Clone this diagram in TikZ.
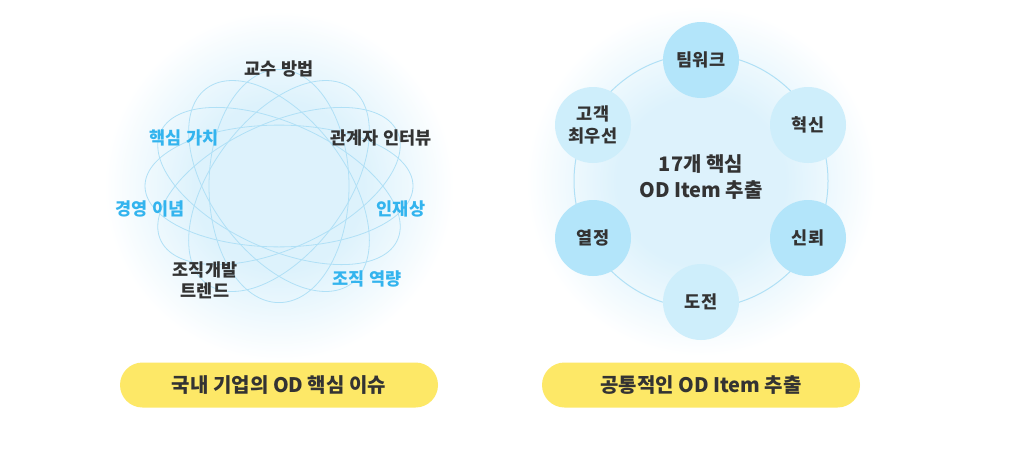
\documentclass[tikz,border=0pt]{standalone}
\usepackage{fontspec}
\setmainfont{Noto Sans CJK KR}
\usepackage{tikz}
\usetikzlibrary{calc}
\definecolor{orbitblue}{HTML}{B0E0F6}
\definecolor{keyblue}{HTML}{33B4EE}
\definecolor{inkgray}{HTML}{333333}
\definecolor{glowin}{HTML}{DDF2FC}
\definecolor{bubdeep}{HTML}{B3E5FA}
\definecolor{bublight}{HTML}{CEEEFB}
\definecolor{pillyellow}{HTML}{FDE867}
\pgfdeclareradialshading{glow}{\pgfpoint{0bp}{0bp}}{color(0bp)=(glowin); color(12bp)=(glowin); color(25bp)=(white); color(50bp)=(white)}

\begin{document}
\begin{tikzpicture}[x=1pt,y=-1pt,
    orbit/.style={draw=orbitblue, line width=0.8pt},
    kw/.style={font=\bfseries\fontsize{17.5}{21}\selectfont, align=center, inner sep=1pt},
    bubble/.style={circle, minimum size=76pt, inner sep=0pt, align=center,
      font=\bfseries\fontsize{17.5}{22}\selectfont, text=inkgray},
    pill/.style={rounded corners=22.5pt, minimum width=318pt, minimum height=45pt,
      fill=pillyellow, font=\bfseries\fontsize{20}{22}\selectfont, text=inkgray}]
    \useasboundingbox (0,0) rectangle (1024,474);
    \fill[white] (0,0) rectangle (1024,474);
    \coordinate (L) at (279,186);
    \coordinate (R) at (701,181);
    % left: orbits
    \shade[shading=glow] (L) circle [radius=175];
    \begin{scope}[shift={(L)}, yscale=0.87]
      \draw[orbit] (0,0) ellipse [x radius=134, y radius=70];
      \draw[orbit, rotate=30] (0,0) ellipse [x radius=134, y radius=70];
      \draw[orbit, rotate=60] (0,0) ellipse [x radius=134, y radius=70];
      \draw[orbit, rotate=90] (0,0) ellipse [x radius=134, y radius=70];
      \draw[orbit, rotate=120] (0,0) ellipse [x radius=134, y radius=70];
      \draw[orbit, rotate=150] (0,0) ellipse [x radius=134, y radius=70];
    \end{scope}
    \node[kw, text=inkgray] (K1) at (279,69) {교수 방법};
    \node[kw, text=inkgray] (K2) at (381,138) {관계자 인터뷰};
    \node[kw, text=keyblue] (K3) at (184,138) {핵심 가치};
    \node[kw, text=keyblue] (K4) at (150,209) {경영 이념};
    \node[kw, text=keyblue] (K5) at (401,209) {인재상};
    \node[kw, text=inkgray] (K6) at (205,280) {조직개발\\트렌드};
    \node[kw, text=keyblue] (K7) at (367,279) {조직 역량};
    % right: ring of values
    \shade[shading=glow] (R) circle [radius=175];
    \draw[orbitblue, line width=1pt] (R) circle [radius=127];
    \node[bubble, fill=bubdeep] (V1) at (701,60) {팀워크};
    \node[bubble, fill=bublight] (V2) at (808,125) {혁신};
    \node[bubble, fill=bubdeep] (V3) at (808,238) {신뢰};
    \node[bubble, fill=bublight] (V4) at (701,302) {도전};
    \node[bubble, fill=bubdeep] (V5) at (593,238) {열정};
    \node[bubble, fill=bublight] (V6) at (593,125) {고객\\최우선};
    \node[font=\bfseries\fontsize{20}{26}\selectfont, align=center, text=inkgray] (T) at (701,177) {17개 핵심\\OD Item 추출};
    % captions
    \node[pill] (P1) at (279,385) {국내 기업의 OD 핵심 이슈};
    \node[pill] (P2) at (701,385) {공통적인 OD Item 추출};
\end{tikzpicture}
\end{document}
